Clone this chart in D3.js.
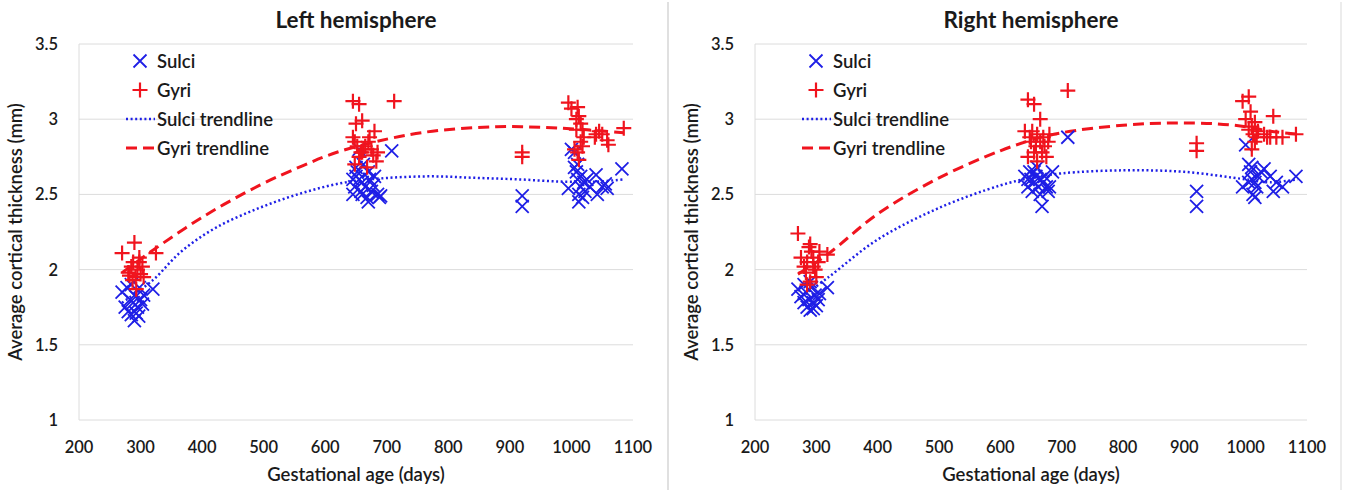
<!DOCTYPE html>
<html>
<head>
<meta charset="utf-8">
<script src="https://cdn.jsdelivr.net/npm/d3@7"></script>
<style>
  body { margin: 0; background: #fff; }
  svg text { font-family: Lato, "Open Sans", sans-serif; fill: #1a1a1a; }
</style>
</head>
<body>
<svg id="chart" width="1348" height="492"></svg>
<script>
// ── Data ────────────────────────────────────────────────────────────────
const xTicks = [200, 300, 400, 500, 600, 700, 800, 900, 1000, 1100];
const yTicks = [1, 1.5, 2, 2.5, 3, 3.5];
const legendLabels = ["Sulci", "Gyri", "Sulci trendline", "Gyri trendline"];

// left hemisphere — [days, mm]
const leftSulci = [
  [270,1.85],[275,1.75],[280,1.72],[283,1.80],[285,1.70],[288,1.78],[290,1.66],[292,1.82],
  [295,1.75],[298,1.88],[300,1.80],[303,1.77],[305,1.83],[285,1.90],[278,1.88],[320,1.87],
  [293,1.71],[297,1.69],
  [645,2.50],[648,2.55],[650,2.62],[652,2.65],[655,2.60],[658,2.52],[660,2.58],[662,2.70],
  [665,2.55],[668,2.48],[670,2.45],[672,2.60],[675,2.52],[678,2.56],[680,2.62],[685,2.50],
  [688,2.48],[655,2.80],[645,2.60],[660,2.50],[670,2.65],[690,2.49],[708,2.79],[650,2.68],
  [920,2.49],[920,2.42],
  [995,2.54],[1000,2.80],[1005,2.78],[1008,2.65],[1010,2.60],[1012,2.50],[1012,2.45],[1015,2.55],
  [1015,2.62],[1018,2.48],[1020,2.58],[1022,2.52],[1025,2.60],[1030,2.55],[1040,2.63],[1042,2.50],
  [1050,2.55],[1058,2.54],[1055,2.57],[1082,2.67],[1005,2.68],[1010,2.70]
];
const leftGyri = [
  [270,2.11],[280,1.98],[285,2.02],[288,2.05],[290,2.18],[292,1.95],[295,2.00],[298,2.08],
  [300,1.97],[303,2.02],[305,1.95],[293,1.87],[287,1.93],[298,2.05],[325,2.11],[282,1.96],
  [645,3.12],[655,3.10],[650,2.97],[660,2.99],[645,2.88],[648,2.85],[652,2.82],[655,2.75],
  [658,2.78],[662,2.80],[665,2.82],[668,2.68],[670,2.85],[672,2.88],[675,2.80],[678,2.76],
  [680,2.92],[683,2.72],[685,2.78],[648,2.70],[712,3.12],[660,2.78],
  [920,2.78],[920,2.75],
  [995,3.11],[1000,3.07],[1010,3.08],[1008,3.00],[1012,3.02],[1015,2.97],[1018,2.93],[1020,2.88],
  [1015,2.85],[1010,2.78],[1012,2.73],[1018,2.82],[1005,2.80],[1040,2.90],[1045,2.92],[1050,2.90],
  [1060,2.83],[1058,2.86],[1085,2.94],[1008,2.93],[1038,2.88]
];
const leftSulciTrend = [
  [270,1.78],[320,1.93],[366,2.12],[423,2.28],[493,2.41],[563,2.51],[633,2.58],[703,2.61],
  [774,2.62],[844,2.61],[914,2.60],[984,2.585],[1040,2.585],[1085,2.60]
];
const leftGyriTrend = [
  [270,1.98],[317,2.12],[401,2.35],[493,2.56],[563,2.69],[619,2.78],[703,2.87],[774,2.92],
  [879,2.95],[984,2.94],[1085,2.91]
];

// right hemisphere
const rightSulci = [
  [270,1.87],[275,1.82],[280,1.78],[283,1.85],[285,1.75],[288,1.80],[290,1.73],[292,1.88],
  [295,1.78],[298,1.83],[300,1.76],[303,1.80],[305,1.84],[290,1.92],[280,1.90],[318,1.88],
  [295,1.74],
  [640,2.62],[645,2.55],[648,2.65],[650,2.60],[652,2.52],[655,2.58],[658,2.62],[660,2.68],
  [662,2.55],[665,2.50],[668,2.42],[670,2.58],[672,2.62],[675,2.55],[678,2.52],[680,2.55],
  [685,2.65],[655,2.65],[645,2.60],[710,2.88],[665,2.60],
  [920,2.52],[920,2.42],
  [995,2.55],[1000,2.83],[1005,2.70],[1008,2.65],[1010,2.60],[1012,2.50],[1015,2.48],[1015,2.58],
  [1018,2.55],[1020,2.62],[1025,2.65],[1030,2.67],[1040,2.62],[1045,2.52],[1050,2.58],[1060,2.55],
  [1082,2.62],[1005,2.58],[1010,2.68]
];
const rightGyri = [
  [270,2.24],[275,2.08],[280,2.02],[283,1.98],[285,2.05],[288,2.15],[290,2.17],[292,2.12],
  [295,2.08],[298,2.00],[300,1.95],[303,2.05],[305,2.12],[290,1.92],[285,1.90],[318,2.10],
  [295,2.02],
  [645,3.13],[655,3.10],[640,2.92],[648,2.88],[650,2.85],[652,2.92],[655,2.78],[658,2.82],
  [660,2.90],[665,3.00],[665,2.85],[668,2.78],[670,2.88],[672,2.82],[675,2.75],[678,2.85],
  [680,2.90],[645,2.75],[660,2.72],[710,3.19],
  [920,2.84],[920,2.79],
  [995,3.12],[1005,3.15],[1000,3.00],[1008,3.05],[1010,2.95],[1012,2.90],[1015,2.85],[1018,2.88],
  [1020,2.92],[1010,2.80],[1030,2.90],[1035,2.88],[1040,2.88],[1045,3.02],[1050,2.88],[1060,2.88],
  [1082,2.90],[1005,2.93],[1015,2.98]
];
const rightSulciTrend = [
  [270,1.80],[320,1.95],[400,2.20],[500,2.41],[600,2.56],[650,2.61],[700,2.64],[800,2.66],
  [900,2.65],[1000,2.60],[1040,2.58],[1085,2.60]
];
const rightGyriTrend = [
  [270,1.97],[318,2.10],[400,2.37],[500,2.61],[600,2.79],[650,2.86],[700,2.91],[800,2.96],
  [880,2.975],[950,2.97],[1000,2.95],[1040,2.92],[1085,2.90]
];

// ── Drawing ─────────────────────────────────────────────────────────────
const BLUE = "#1f1fe6", RED = "#f0141e";
const svg = d3.select("#chart");

// panel divider lines
svg.append("line").attr("x1", 668).attr("x2", 668).attr("y1", 2).attr("y2", 490)
  .attr("stroke", "#d6d6d6").attr("stroke-width", 1.5);
svg.append("line").attr("x1", 1341).attr("x2", 1341).attr("y1", 2).attr("y2", 490)
  .attr("stroke", "#e6e6e6").attr("stroke-width", 1.5);

function drawPanel(opts) {
  const { title, left, right, sulci, gyri, sulciTrend, gyriTrend } = opts;
  const top = 44, bottom = 420;
  const x = d3.scaleLinear().domain([200, 1100]).range([left, right]);
  const y = d3.scaleLinear().domain([1, 3.5]).range([bottom, top]);
  const g = svg.append("g");
  const cx = (left + right) / 2;

  // gridlines
  g.selectAll(".grid").data(yTicks).join("line")
    .attr("x1", left).attr("x2", right)
    .attr("y1", d => y(d)).attr("y2", d => y(d))
    .attr("stroke", "#dcdcdc").attr("stroke-width", 1);
  g.append("line").attr("x1", left).attr("x2", left).attr("y1", top).attr("y2", bottom)
    .attr("stroke", "#dcdcdc");

  // tick labels
  g.selectAll(".yt").data(yTicks).join("text")
    .attr("x", left - 21).attr("y", d => y(d) + 6)
    .attr("text-anchor", "end").attr("font-size", 16.5).attr("font-weight", 600)
    .text(d => d);
  g.selectAll(".xt").data(xTicks).join("text")
    .attr("x", d => x(d)).attr("y", bottom + 33)
    .attr("text-anchor", "middle").attr("font-size", 16.5).attr("font-weight", 600)
    .text(d => d);

  // titles
  g.append("text").attr("x", cx).attr("y", 28).attr("text-anchor", "middle")
    .attr("font-size", 22.5).attr("font-weight", "bold").text(title);
  g.append("text").attr("x", cx).attr("y", 481).attr("text-anchor", "middle")
    .attr("font-size", 18.5).attr("font-weight", 600).text("Gestational age (days)");
  g.append("text")
    .attr("transform", `translate(${left - 57},${(top + bottom) / 2})  rotate(-90)`)
    .attr("text-anchor", "middle").attr("font-size", 18.5).attr("font-weight", 600)
    .text("Average cortical thickness (mm)");

  // trendlines
  const line = d3.line().x(d => x(d[0])).y(d => y(d[1])).curve(d3.curveCatmullRom);
  g.append("path").attr("d", line(sulciTrend)).attr("fill", "none")
    .attr("stroke", BLUE).attr("stroke-width", 2.5).attr("stroke-dasharray", "2,2.6");
  g.append("path").attr("d", line(gyriTrend)).attr("fill", "none")
    .attr("stroke", RED).attr("stroke-width", 3).attr("stroke-dasharray", "11,6");

  // markers
  const s = 6.5;
  g.selectAll(".sul").data(sulci).join("path")
    .attr("transform", d => `translate(${x(d[0])},${y(d[1])})`)
    .attr("d", `M${-s},${-s}L${s},${s}M${-s},${s}L${s},${-s}`)
    .attr("stroke", BLUE).attr("stroke-width", 1.8).attr("fill", "none");
  const p = 7.5;
  g.selectAll(".gyr").data(gyri).join("path")
    .attr("transform", d => `translate(${x(d[0])},${y(d[1])})`)
    .attr("d", `M${-p},0L${p},0M0,${-p}L0,${p}`)
    .attr("stroke", RED).attr("stroke-width", 2.2).attr("fill", "none");

  // legend
  const lx = left + 61, ly = 61, step = 29;
  const lg = g.append("g");
  lg.append("path").attr("transform", `translate(${lx},${ly})`)
    .attr("d", `M${-s},${-s}L${s},${s}M${-s},${s}L${s},${-s}`)
    .attr("stroke", BLUE).attr("stroke-width", 1.8);
  lg.append("path").attr("transform", `translate(${lx},${ly + step})`)
    .attr("d", `M${-p},0L${p},0M0,${-p}L0,${p}`)
    .attr("stroke", RED).attr("stroke-width", 2.2);
  lg.append("line").attr("x1", lx - 14).attr("x2", lx + 15)
    .attr("y1", ly + 2 * step).attr("y2", ly + 2 * step)
    .attr("stroke", BLUE).attr("stroke-width", 2.5).attr("stroke-dasharray", "2,2.6");
  lg.append("line").attr("x1", lx - 14).attr("x2", lx + 15)
    .attr("y1", ly + 3 * step).attr("y2", ly + 3 * step)
    .attr("stroke", RED).attr("stroke-width", 3).attr("stroke-dasharray", "11,6");
  lg.selectAll("text").data(legendLabels).join("text")
    .attr("x", lx + 17).attr("y", (d, i) => ly + i * step + 6.5)
    .attr("font-size", 18.5).attr("font-weight", 600).text(d => d);
}

drawPanel({ title: "Left hemisphere", left: 79, right: 633,
  sulci: leftSulci, gyri: leftGyri, sulciTrend: leftSulciTrend, gyriTrend: leftGyriTrend });
drawPanel({ title: "Right hemisphere", left: 755, right: 1307,
  sulci: rightSulci, gyri: rightGyri, sulciTrend: rightSulciTrend, gyriTrend: rightGyriTrend });
</script>
</body>
</html>
